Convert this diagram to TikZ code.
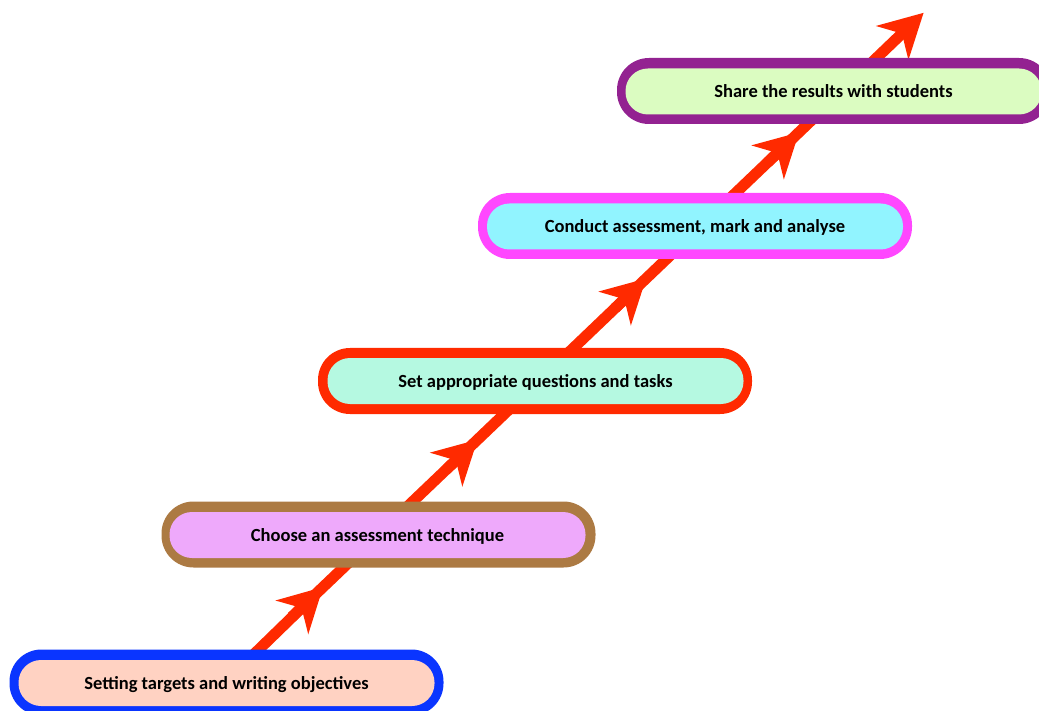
\documentclass[tikz,border=0pt]{standalone}
\usepackage{fontspec}
\setmainfont{Carlito}
\usetikzlibrary{arrows.meta}
\definecolor{redA}{HTML}{FF2A00}
\definecolor{blueO}{HTML}{0A35FF}
\definecolor{peachI}{HTML}{FFD2C2}
\definecolor{brownO}{HTML}{AC7A43}
\definecolor{lavI}{HTML}{EEA9FB}
\definecolor{redO}{HTML}{FF2A00}
\definecolor{mintI}{HTML}{B5F9E1}
\definecolor{magO}{HTML}{FF47FF}
\definecolor{cyanI}{HTML}{91F4FF}
\definecolor{purO}{HTML}{932291}
\definecolor{greenI}{HTML}{DBFCC1}
\tikzset{
  outerbox/.style={draw=none, rounded corners=32pt, minimum width=434pt, minimum height=66pt, inner sep=0pt},
  innerbox/.style={draw=none, rounded corners=22.5pt, minimum width=416pt, minimum height=46pt, inner sep=0pt,
     text height=15.5pt, text depth=3pt,
     font=\fontsize{18.5}{22}\selectfont\bfseries, text=black},
  headline/.style={draw=redA, line width=11pt, -{Stealth[length=43pt, width=46pt, inset=13pt]}},
}
\begin{document}
\begin{tikzpicture}[x=1pt,y=-1pt]
\useasboundingbox (0,0) rectangle (1039,711);
\clip (0,0) rectangle (1039,711);
% line coordinates
\coordinate (s0) at (248,660);
\coordinate (b1) at (292,616.7);
\coordinate (t1) at (323.1,587);
\coordinate (b2) at (446.5,469.3);
\coordinate (t2) at (477.6,439.6);
\coordinate (b3) at (615,308.2);
\coordinate (t3) at (646.1,278.5);
\coordinate (b4) at (768,162);
\coordinate (t4) at (799.1,132.3);
\coordinate (b5) at (892.5,42.5);
\coordinate (t5) at (923.6,12.8);
\draw[headline] (s0) -- (t1);
\draw[headline] (b1) -- (t2);
\draw[headline] (b2) -- (t3);
\draw[headline] (b3) -- (t4);
\draw[headline] (b4) -- (t5);
% boxes
\node[outerbox, fill=blueO] (o1) at (226.5,682.5) {};
\node[innerbox, fill=peachI] (n1) at (226.5,683) {Setting targets and writing objectives};
\node[outerbox, fill=brownO] (o2) at (378.5,534.5) {};
\node[innerbox, fill=lavI] (n2) at (377.5,535) {Choose an assessment technique};
\node[outerbox, fill=redO] (o3) at (535,381) {};
\node[innerbox, fill=mintI] (n3) at (535.5,381) {Set appropriate questions and tasks};
\node[outerbox, fill=magO] (o4) at (695,226) {};
\node[innerbox, fill=cyanI] (n4) at (695,226.5) {Conduct assessment, mark and analyse};
\node[outerbox, fill=purO] (o5) at (834,91) {};
\node[innerbox, fill=greenI] (n5) at (833.5,91.5) {Share the results with students};
\end{tikzpicture}
\end{document}
